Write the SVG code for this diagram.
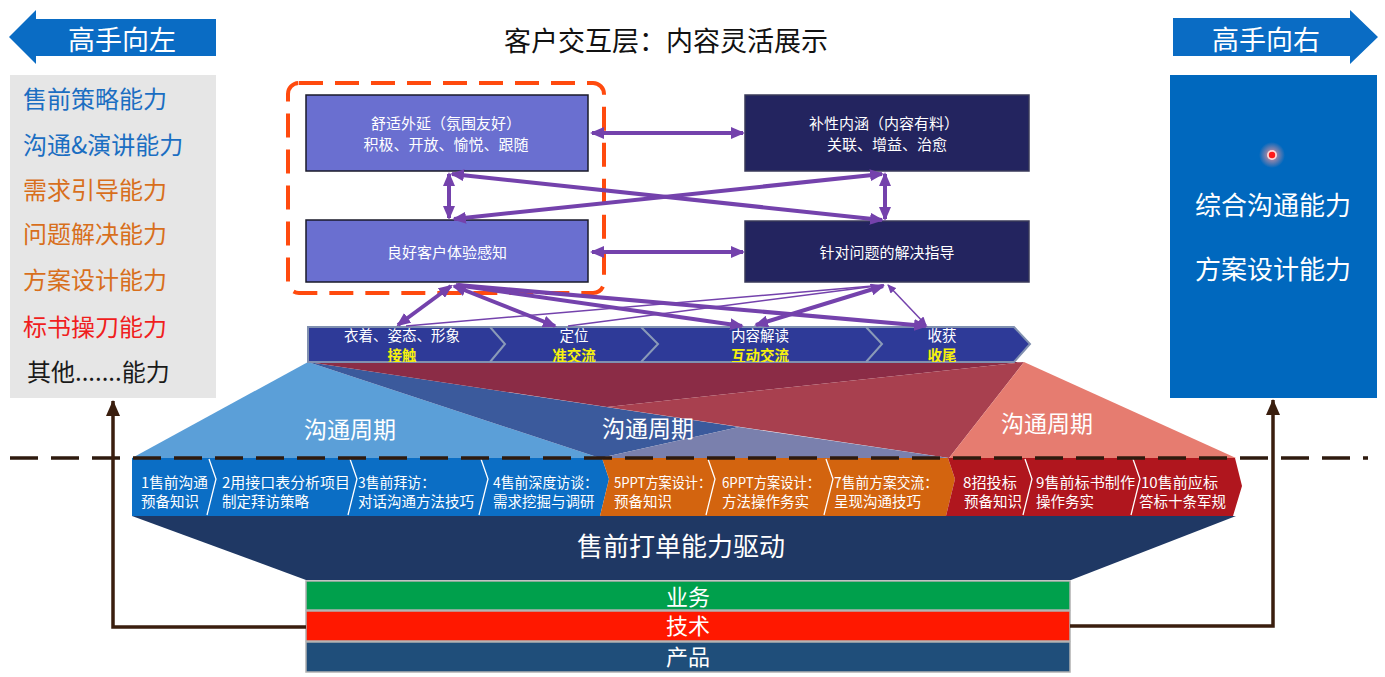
<svg xmlns="http://www.w3.org/2000/svg" width="1385" height="677" viewBox="0 0 1385 677">
  <defs>
    <style>
      text { font-family: "Noto Sans CJK SC", "Noto Sans", sans-serif; }
      .w { fill: #ffffff; }
      .lite { fill: #6a6fd0; stroke: #1a1a2a; stroke-width: 1.5; }
      .dark { fill: #23245f; stroke: #3a3a5a; stroke-width: 1.5; }
      .bt { font-size: 15px; fill: #ffffff; text-anchor: middle; }
      .lnk { stroke: #7442ac; stroke-width: 4; fill: none; marker-start: url(#ah); marker-end: url(#ah); }
      .lnk1 { stroke: #7442ac; stroke-width: 4; fill: none; marker-end: url(#ah); }
      .thin { stroke: #7442ac; stroke-width: 1.5; fill: none; }
      .thin2 { stroke: #7442ac; stroke-width: 1.5; fill: none; marker-start: url(#aht); marker-end: url(#aht); }
      .feed { stroke: #3a1e0e; stroke-width: 3.5; fill: none; marker-end: url(#ahb); }
      .st1 { font-size: 14.5px; fill: #ffffff; text-anchor: middle; }
      .st2 { font-size: 14.5px; fill: #f7f20c; font-weight: bold; text-anchor: middle; }
      .pb { font-size: 14.5px; fill: #ffffff; }
      .cyc { font-size: 23px; fill: #ffffff; text-anchor: middle; }
      .lay { font-size: 22px; fill: #ffffff; text-anchor: middle; }
      .skill { font-size: 24px; }
      .div { stroke: #ffffff; stroke-width: 1.3; fill: none; }
      .sdiv { stroke: #8a9ab8; stroke-width: 2; fill: none; }
    </style>
    <marker id="ah" viewBox="0 0 14 12" refX="12" refY="6" markerWidth="14" markerHeight="12" markerUnits="userSpaceOnUse" orient="auto-start-reverse">
      <path d="M0,0 L14,6 L0,12 z" fill="#7442ac"/>
    </marker>
    <marker id="aht" viewBox="0 0 9 8" refX="8" refY="4" markerWidth="9" markerHeight="8" markerUnits="userSpaceOnUse" orient="auto-start-reverse">
      <path d="M0,0 L9,4 L0,8 z" fill="#7442ac"/>
    </marker>
    <marker id="ahb" viewBox="0 0 16 14" refX="15" refY="7" markerWidth="16" markerHeight="14" markerUnits="userSpaceOnUse" orient="auto">
      <path d="M0,0 L16,7 L0,14 z" fill="#3a1e0e"/>
    </marker>
    <radialGradient id="glow">
      <stop offset="0" stop-color="#ff9a9a" stop-opacity="0.95"/>
      <stop offset="1" stop-color="#ff9a9a" stop-opacity="0"/>
    </radialGradient>
    <clipPath id="bandClip">
      <path d="M308,327 H1014 L1030,344 L1014,362 H308 Z"/>
    </clipPath>
  </defs>

  <rect width="1385" height="677" fill="#ffffff"/>

  <!-- left: arrow banner and skills list -->
  <g id="arrow-left">
    <path d="M9,37 L36,10 L36,19 H216 V56 H36 V64 Z" fill="#0a6cc4"/>
    <text x="122" y="50" font-size="27" class="w" text-anchor="middle">高手向左</text>
  </g>
  <g id="skills-left">
    <rect x="10" y="75" width="206" height="323" fill="#e6e6e6"/>
    <text x="23" y="108" class="skill" fill="#1b6ec2">售前策略能力</text>
    <text x="23" y="154" class="skill" fill="#1b6ec2">沟通&amp;演讲能力</text>
    <text x="23" y="199" class="skill" fill="#d86f1c">需求引导能力</text>
    <text x="23" y="243" class="skill" fill="#d86f1c">问题解决能力</text>
    <text x="23" y="289" class="skill" fill="#d86f1c">方案设计能力</text>
    <text x="23" y="336" class="skill" fill="#f01e1e">标书操刀能力</text>
    <text x="27" y="381" class="skill" fill="#1a1a1a">其他.......能力</text>
  </g>

  <!-- right: arrow banner and result box -->
  <g id="arrow-right">
    <path d="M1378,37 L1350,10 V18 H1173 V56 H1350 V64 Z" fill="#0a6cc4"/>
    <text x="1266" y="50" font-size="27" class="w" text-anchor="middle">高手向右</text>
  </g>
  <g id="skills-right">
    <rect x="1170" y="75" width="207" height="323" fill="#0068be"/>
    <circle cx="1272" cy="155" r="13" fill="url(#glow)"/>
    <circle cx="1272" cy="155" r="5" fill="#ffd6d6"/>
    <circle cx="1272" cy="155" r="3.2" fill="#ff1a1a"/>
    <text x="1273" y="215" font-size="26" class="w" text-anchor="middle">综合沟通能力</text>
    <text x="1273" y="279" font-size="26" class="w" text-anchor="middle">方案设计能力</text>
  </g>

  <g id="title">
    <text x="666" y="51" font-size="27" fill="#111111" text-anchor="middle">客户交互层：内容灵活展示</text>
  </g>

  <!-- customer interaction boxes -->
  <g id="focus-frame">
    <rect x="288" y="83" width="316" height="210" rx="11" fill="none" stroke="#ff4a0e" stroke-width="4" stroke-dasharray="24 12"/>
  </g>
  <g id="box-comfort">
    <rect x="306" y="95" width="282" height="76" class="lite"/>
    <text x="446" y="129" class="bt">舒适外延（氛围友好）</text>
    <text x="446" y="150" class="bt">积极、开放、愉悦、跟随</text>
  </g>
  <g id="box-experience">
    <rect x="306" y="220" width="282" height="62" class="lite"/>
    <text x="447" y="258" class="bt">良好客户体验感知</text>
  </g>
  <g id="box-content">
    <rect x="745" y="95" width="284" height="76" class="dark"/>
    <text x="884" y="129" class="bt">补性内涵（内容有料）</text>
    <text x="887" y="150" class="bt">关联、增益、治愈</text>
  </g>
  <g id="box-guidance">
    <rect x="745" y="221" width="284" height="61" class="dark"/>
    <text x="887" y="258" class="bt">针对问题的解决指导</text>
  </g>

  <!-- communication cycle fans -->
  <g id="cycle-fans">
    <polygon points="308,362 132,458 600,458" fill="#5b9fd8"/>
    <polygon points="308,362 739,427 600,458" fill="#3b5a9c"/>
    <polygon points="308,362 1024,362 607,407" fill="#8b2c46"/>
    <polygon points="607,407 1024,362 949,458" fill="#a8404f"/>
    <polygon points="600,458 739,427 949,458" fill="#7a80ad"/>
    <polygon points="1024,362 949,458 1236,458" fill="#e67c70"/>
    <text x="350" y="438" class="cyc">沟通周期</text>
    <text x="648" y="437" class="cyc">沟通周期</text>
    <text x="1047" y="432" class="cyc">沟通周期</text>
  </g>

  <!-- stage band -->
  <g id="stage-band">
    <path d="M308,327 H1014 L1030,344 L1014,362 H308 Z" fill="#2e3a98" stroke="#8090b0" stroke-width="2"/>
    <path d="M490,327 L505,344 L490,362" class="sdiv"/>
    <path d="M641,327 L658,344 L641,362" class="sdiv"/>
    <path d="M866,327 L882,344 L866,362" class="sdiv"/>
    <g clip-path="url(#bandClip)">
      <text x="402" y="341" class="st1">衣着、姿态、形象</text>
      <text x="402" y="361" class="st2">接触</text>
      <text x="574" y="341" class="st1">定位</text>
      <text x="574" y="361" class="st2">准交流</text>
      <text x="760" y="341" class="st1">内容解读</text>
      <text x="760" y="361" class="st2">互动交流</text>
      <text x="942" y="341" class="st1">收获</text>
      <text x="942" y="361" class="st2">收尾</text>
    </g>
  </g>

  <!-- ten-step process bar -->
  <g id="process-bar">
    <polygon points="132,458 602,458 609,479 600,516 132,516" fill="#0b6ec5"/>
    <polygon points="602,458 948,458 955,479 946,516 600,516 609,479" fill="#d3640f"/>
    <polygon points="948,458 1235,458 1242,486 1233,516 946,516 955,479" fill="#b0161e"/>
    <path d="M209,459 L216,479 L207,515" class="div"/>
    <path d="M350,459 L357,479 L348,515" class="div"/>
    <path d="M481,459 L488,479 L479,515" class="div"/>
    <path d="M708,459 L715,479 L706,515" class="div"/>
    <path d="M826,459 L833,479 L824,515" class="div"/>
    <path d="M1025,459 L1032,479 L1023,515" class="div"/>
    <path d="M1133,459 L1140,479 L1131,515" class="div"/>
    <text x="141" y="488" class="pb" textLength="67" lengthAdjust="spacingAndGlyphs">1售前沟通</text>
    <text x="141" y="507" class="pb">预备知识</text>
    <text x="222" y="488" class="pb" textLength="128" lengthAdjust="spacingAndGlyphs">2用接口表分析项目</text>
    <text x="222" y="507" class="pb">制定拜访策略</text>
    <text x="358" y="488" class="pb" textLength="77" lengthAdjust="spacingAndGlyphs">3售前拜访：</text>
    <text x="358" y="507" class="pb">对话沟通方法技巧</text>
    <text x="493" y="488" class="pb" textLength="105" lengthAdjust="spacingAndGlyphs">4售前深度访谈：</text>
    <text x="493" y="507" class="pb">需求挖掘与调研</text>
    <text x="614" y="488" class="pb" textLength="97" lengthAdjust="spacingAndGlyphs">5PPT方案设计：</text>
    <text x="614" y="507" class="pb">预备知识</text>
    <text x="722" y="488" class="pb" textLength="98" lengthAdjust="spacingAndGlyphs">6PPT方案设计：</text>
    <text x="722" y="507" class="pb">方法操作务实</text>
    <text x="834" y="488" class="pb" textLength="104" lengthAdjust="spacingAndGlyphs">7售前方案交流：</text>
    <text x="834" y="507" class="pb">呈现沟通技巧</text>
    <text x="963" y="488" class="pb" textLength="54" lengthAdjust="spacingAndGlyphs">8招投标</text>
    <text x="964" y="507" class="pb">预备知识</text>
    <text x="1036" y="488" class="pb" textLength="99" lengthAdjust="spacingAndGlyphs">9售前标书制作</text>
    <text x="1036" y="507" class="pb">操作务实</text>
    <text x="1141" y="488" class="pb" textLength="77" lengthAdjust="spacingAndGlyphs">10售前应标</text>
    <text x="1139" y="507" class="pb">答标十条军规</text>
  </g>

  <!-- dashed divider -->
  <path d="M10,458 H1368" stroke="#2e1a0e" stroke-width="3.5" stroke-dasharray="28 13" fill="none"/>

  <!-- driving funnel and base layers -->
  <g id="drive-funnel">
    <polygon points="132,516 1236,516 1071,580 306,580" fill="#1f3864"/>
    <text x="681" y="556" font-size="26" class="w" text-anchor="middle">售前打单能力驱动</text>
  </g>
  <g id="base-layers">
    <rect x="306" y="581" width="764" height="29" fill="#00a04c" stroke="#b0b0b0" stroke-width="1.5"/>
    <rect x="306" y="611" width="764" height="30" fill="#ff1800" stroke="#b0b0b0" stroke-width="1.5"/>
    <rect x="306" y="642" width="764" height="30" fill="#1f4e7a" stroke="#b0b0b0" stroke-width="1.5"/>
    <text x="688" y="605" class="lay">业务</text>
    <text x="688" y="634" class="lay">技术</text>
    <text x="688" y="665" class="lay">产品</text>
  </g>

  <!-- connectors -->
  <g id="connectors">
    <path d="M592,133 H743" class="lnk"/>
    <path d="M592,252 H743" class="lnk"/>
    <path d="M449,174 V218" class="lnk"/>
    <path d="M885,174 V219" class="lnk"/>
    <path d="M452,174 L882,220" class="lnk"/>
    <path d="M454,219 L882,174" class="lnk"/>

    <path d="M884,285 L406,326" class="thin"/>
    <path d="M884,285 L568,326" class="thin"/>
    <path d="M888,285 L926,325" class="thin2"/>

    <path d="M451,286 L398,325" class="lnk"/>
    <path d="M454,286 L555,326" class="lnk"/>
    <path d="M456,285 L742,326" class="lnk1"/>
    <path d="M458,285 L926,326" class="lnk1"/>
    <path d="M883,286 L756,325" class="lnk"/>

    <path d="M306,627 H113 V401" class="feed"/>
    <path d="M1070,626 H1273 V400" class="feed"/>
  </g>
</svg>
